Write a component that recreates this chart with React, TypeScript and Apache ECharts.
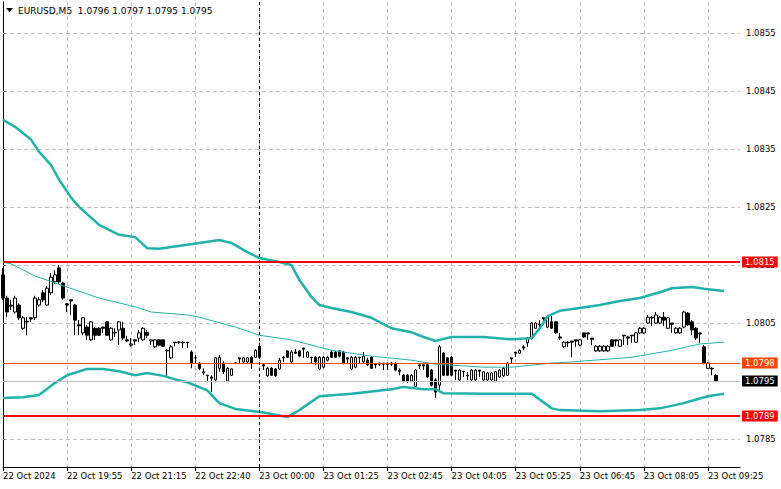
import React, { useEffect, useRef } from "react";
import * as echarts from "echarts";

const titleText = "EURUSD,M5  1.0796 1.0797 1.0795 1.0795";
const timeTicks = [
  "22 Oct 2024", "22 Oct 19:55", "22 Oct 21:15", "22 Oct 22:40", "23 Oct 00:00", "23 Oct 01:25",
  "23 Oct 02:45", "23 Oct 04:05", "23 Oct 05:25", "23 Oct 06:45", "23 Oct 08:05", "23 Oct 09:25",
];
const priceTicks = [1.0785, 1.0795, 1.0805, 1.0815, 1.0825, 1.0835, 1.0845, 1.0855];
const levelValues = [1.08155, 1.07981, 1.0795, 1.0789];
const levelLabels = ["1.0815", "1.0798", "1.0795", "1.0789"];
const sessionMarkerIndex = 64;
const slotCount = 185;

// [open, close, low, high]
const candles = [
  [1.08133, 1.08093, 1.0809, 1.08145], [1.08093, 1.08069, 1.0806, 1.08097], [1.08081, 1.08079, 1.08072, 1.0809],
  [1.08069, 1.08093, 1.08066, 1.08097], [1.08081, 1.08059, 1.08055, 1.08084], [1.08041, 1.08059, 1.08038, 1.08062],
  [1.08053, 1.08052, 1.08029, 1.0806], [1.08059, 1.08057, 1.08052, 1.0806], [1.08059, 1.08093, 1.08055, 1.08097],
  [1.08081, 1.0809, 1.08078, 1.08095], [1.08102, 1.0809, 1.08086, 1.08107], [1.08081, 1.0811, 1.08079, 1.08114],
  [1.08102, 1.08129, 1.08098, 1.08136], [1.08121, 1.08133, 1.08117, 1.08141], [1.08145, 1.08121, 1.08117, 1.0815],
  [1.08119, 1.08093, 1.0809, 1.08121], [1.08083, 1.08081, 1.08069, 1.08084], [1.0809, 1.08088, 1.08064, 1.0809],
  [1.08081, 1.08055, 1.08029, 1.08083], [1.08047, 1.08045, 1.08029, 1.08055], [1.08033, 1.08059, 1.08029, 1.0806],
  [1.08043, 1.08029, 1.08021, 1.08047], [1.08021, 1.08052, 1.08019, 1.08053], [1.08041, 1.08029, 1.08021, 1.08043],
  [1.08041, 1.08029, 1.08028, 1.08043], [1.08043, 1.08041, 1.08033, 1.08043], [1.08052, 1.08029, 1.08028, 1.08053],
  [1.08021, 1.08041, 1.08019, 1.08043], [1.08034, 1.08033, 1.08026, 1.08041], [1.08038, 1.08052, 1.08012, 1.08053],
  [1.08041, 1.08024, 1.08021, 1.08052], [1.08021, 1.08019, 1.08017, 1.08028], [1.08012, 1.08014, 1.08009, 1.08024],
  [1.08021, 1.08019, 1.08012, 1.08021], [1.08024, 1.08033, 1.08017, 1.08038], [1.08021, 1.08041, 1.08019, 1.08043],
  [1.08034, 1.08029, 1.08024, 1.08038], [1.08019, 1.08021, 1.08012, 1.08021], [1.08009, 1.08021, 1.08007, 1.08022],
  [1.08021, 1.08012, 1.0801, 1.08022], [1.08021, 1.0801, 1.08009, 1.08022], [1.08002, 1.08003, 1.07959, 1.08005],
  [1.0799, 1.08009, 1.07988, 1.08012], [1.08017, 1.08016, 1.0801, 1.08017], [1.08017, 1.08017, 1.08014, 1.08019],
  [1.08017, 1.08016, 1.08007, 1.08019], [1.08017, 1.08016, 1.08007, 1.08017], [1.08, 1.07981, 1.07972, 1.08003],
  [1.0799, 1.0799, 1.07981, 1.07995], [1.07981, 1.07972, 1.07969, 1.07983], [1.07964, 1.07966, 1.0796, 1.07972],
  [1.0796, 1.07959, 1.07948, 1.0796], [1.07957, 1.07955, 1.07931, 1.0796], [1.07952, 1.0799, 1.07948, 1.07991],
  [1.07972, 1.07991, 1.07966, 1.07995], [1.07981, 1.07966, 1.07962, 1.07984], [1.0795, 1.07972, 1.07948, 1.07974],
  [1.0796, 1.07971, 1.07959, 1.07972], [1.07981, 1.07981, 1.07979, 1.07983], [1.0799, 1.07988, 1.07981, 1.0799],
  [1.07983, 1.0799, 1.07981, 1.07991], [1.07983, 1.0799, 1.07981, 1.07991], [1.07991, 1.07981, 1.07971, 1.07993],
  [1.07991, 1.08003, 1.0799, 1.08005], [1.0801, 1.07991, 1.07988, 1.08016], [1.07978, 1.07976, 1.07969, 1.07979],
  [1.07959, 1.07972, 1.07957, 1.07974], [1.07972, 1.0796, 1.07959, 1.07974], [1.07971, 1.07959, 1.07957, 1.07972],
  [1.07971, 1.07986, 1.07969, 1.0799], [1.07991, 1.0799, 1.07983, 1.07993], [1.08002, 1.07991, 1.0799, 1.08003],
  [1.07983, 1.08, 1.07981, 1.08003], [1.08, 1.07998, 1.07997, 1.08005], [1.08002, 1.07993, 1.07991, 1.08003],
  [1.08007, 1.08005, 1.0799, 1.08007], [1.07991, 1.08, 1.0799, 1.08002], [1.07991, 1.0799, 1.07981, 1.07991],
  [1.07991, 1.07983, 1.07978, 1.07993], [1.07971, 1.07991, 1.07969, 1.07993], [1.07974, 1.07991, 1.07972, 1.07993],
  [1.07986, 1.07991, 1.07984, 1.07993], [1.08, 1.07991, 1.0799, 1.08002], [1.08, 1.07991, 1.0799, 1.08002],
  [1.08002, 1.07993, 1.07991, 1.08003], [1.08, 1.07981, 1.07979, 1.08002], [1.0799, 1.07988, 1.07979, 1.0799],
  [1.07971, 1.07991, 1.07969, 1.07993], [1.07974, 1.07991, 1.07972, 1.07993], [1.07991, 1.0799, 1.07981, 1.07991],
  [1.07983, 1.07993, 1.07981, 1.08], [1.07986, 1.07978, 1.07976, 1.0799], [1.07991, 1.07972, 1.07971, 1.07993],
  [1.07979, 1.07978, 1.07972, 1.07981], [1.07981, 1.07979, 1.07976, 1.07981], [1.07981, 1.07979, 1.07969, 1.07981],
  [1.07981, 1.07979, 1.07969, 1.07981], [1.07981, 1.07979, 1.07976, 1.07983], [1.07981, 1.07969, 1.07967, 1.07983],
  [1.07969, 1.07967, 1.0796, 1.07972], [1.0796, 1.0795, 1.07948, 1.07962], [1.0796, 1.0795, 1.07947, 1.07962],
  [1.0795, 1.0796, 1.07948, 1.07962], [1.07941, 1.07969, 1.0794, 1.07971], [1.07978, 1.07976, 1.07971, 1.07978],
  [1.07978, 1.07976, 1.07969, 1.07978], [1.07978, 1.07957, 1.07955, 1.07979], [1.07969, 1.07943, 1.07941, 1.07971],
  [1.07952, 1.07931, 1.07921, 1.07955], [1.07943, 1.08009, 1.07934, 1.08012], [1.07998, 1.0796, 1.07959, 1.08],
  [1.0799, 1.0796, 1.07959, 1.07991], [1.07991, 1.0796, 1.07959, 1.07993], [1.07969, 1.07967, 1.07952, 1.07969],
  [1.07952, 1.07969, 1.0795, 1.07971], [1.07967, 1.07966, 1.07957, 1.07967], [1.0796, 1.07959, 1.07952, 1.07966],
  [1.07952, 1.07969, 1.0795, 1.07971], [1.07952, 1.07969, 1.0795, 1.07971], [1.07969, 1.07967, 1.07957, 1.07969],
  [1.07952, 1.07966, 1.0795, 1.07967], [1.07952, 1.07964, 1.0795, 1.07966], [1.07952, 1.07964, 1.0795, 1.07966],
  [1.0795, 1.07966, 1.07948, 1.07967], [1.07957, 1.07969, 1.07955, 1.07971], [1.07959, 1.07972, 1.07957, 1.07974],
  [1.0796, 1.07981, 1.07959, 1.07983], [1.0799, 1.07988, 1.07981, 1.0799], [1.08, 1.07998, 1.07991, 1.08],
  [1.07998, 1.08003, 1.07997, 1.08005], [1.08009, 1.08007, 1.08003, 1.08012], [1.08016, 1.08024, 1.08009, 1.08026],
  [1.08024, 1.0805, 1.08022, 1.08052], [1.08041, 1.0805, 1.0804, 1.08052], [1.08047, 1.08048, 1.08041, 1.08055],
  [1.08059, 1.08057, 1.08047, 1.0806], [1.08043, 1.0806, 1.08041, 1.08062], [1.08052, 1.08041, 1.0804, 1.08062],
  [1.08052, 1.08033, 1.08031, 1.08053], [1.08026, 1.08024, 1.08021, 1.08033], [1.08009, 1.08017, 1.08007, 1.08019],
  [1.08017, 1.08016, 1.08009, 1.08019], [1.08019, 1.08017, 1.07991, 1.08019], [1.08021, 1.08019, 1.08009, 1.08021],
  [1.08012, 1.08021, 1.0801, 1.08022], [1.08033, 1.08026, 1.08024, 1.08034], [1.08033, 1.08031, 1.08021, 1.08033],
  [1.08024, 1.08022, 1.08012, 1.08024], [1.08002, 1.0801, 1.08, 1.08012], [1.08002, 1.0801, 1.08, 1.08012],
  [1.08002, 1.0801, 1.08, 1.08012], [1.08002, 1.0801, 1.08, 1.08012], [1.08021, 1.0801, 1.08009, 1.08022],
  [1.08021, 1.08019, 1.0801, 1.08021], [1.0801, 1.08021, 1.08009, 1.08022], [1.08029, 1.08028, 1.08012, 1.08029],
  [1.08026, 1.08024, 1.08012, 1.08028], [1.08029, 1.08028, 1.08016, 1.08029], [1.08017, 1.08033, 1.08016, 1.08034],
  [1.08033, 1.08041, 1.08031, 1.08043], [1.08033, 1.08041, 1.08031, 1.08043], [1.0805, 1.0806, 1.08048, 1.08064],
  [1.0806, 1.08059, 1.08045, 1.08062], [1.0805, 1.08064, 1.08048, 1.08069], [1.0805, 1.0806, 1.08048, 1.08062],
  [1.0806, 1.08055, 1.08045, 1.08069], [1.08041, 1.08059, 1.0804, 1.0806], [1.0805, 1.08048, 1.08033, 1.0805],
  [1.08033, 1.08041, 1.08031, 1.08043], [1.08033, 1.08041, 1.08031, 1.08043], [1.08043, 1.08069, 1.08041, 1.08071],
  [1.08067, 1.08047, 1.08045, 1.08069], [1.08052, 1.08038, 1.08029, 1.08055], [1.08041, 1.08024, 1.08021, 1.08043],
  [1.08033, 1.08031, 1.08016, 1.08033], [1.08009, 1.07981, 1.07979, 1.08012], [1.07972, 1.07981, 1.07971, 1.07983],
  [1.07972, 1.07971, 1.0796, 1.07974], [1.0796, 1.0795, 1.07948, 1.07962],
];

// Bollinger bands: [bar index, price]
const upperBand = [
  [0, 1.084], [3, 1.08388], [7, 1.08366], [9, 1.08345], [12, 1.08322], [14, 1.08297], [17, 1.08266],
  [19, 1.0825], [24, 1.08219], [29, 1.08202], [33, 1.08198], [36, 1.08179], [39, 1.08178], [49, 1.08188],
  [54, 1.08193], [57, 1.08188], [61, 1.08172], [64, 1.08162], [69, 1.08155], [72, 1.0815], [74, 1.08124],
  [77, 1.08095], [79, 1.08081], [82, 1.08076], [87, 1.08069], [92, 1.08059], [97, 1.08041], [102, 1.08034],
  [105, 1.08026], [108, 1.08019], [109, 1.08021], [112, 1.08026], [120, 1.08026], [127, 1.08022],
  [132, 1.08024], [134, 1.08041], [136, 1.08062], [139, 1.08071], [144, 1.08076], [149, 1.08081],
  [154, 1.08088], [159, 1.08093], [164, 1.08103], [167, 1.0811], [172, 1.08112], [175, 1.08109], [180, 1.08105],
];
const middleBand = [
  [0, 1.08155], [2, 1.08152], [8, 1.08131], [16, 1.08112], [24, 1.08093], [33, 1.08078], [37, 1.08069],
  [46, 1.08064], [49, 1.0806], [58, 1.08043], [64, 1.08029], [72, 1.08021], [82, 1.08003], [92, 1.07993],
  [102, 1.07986], [108, 1.07979], [120, 1.07974], [127, 1.07974], [137, 1.07981], [142, 1.07983],
  [157, 1.07991], [167, 1.08003], [174, 1.08014], [180, 1.08017],
];
const lowerBand = [
  [0, 1.07921], [5, 1.07922], [9, 1.07926], [13, 1.07947], [16, 1.0796], [21, 1.07971], [25, 1.07971],
  [29, 1.07967], [33, 1.0796], [36, 1.07964], [40, 1.07959], [43, 1.07953], [46, 1.07948], [51, 1.07934],
  [54, 1.07912], [58, 1.07902], [64, 1.07897], [71, 1.07888], [74, 1.079], [79, 1.07924], [87, 1.07928],
  [97, 1.07936], [100, 1.0794], [105, 1.07936], [108, 1.07936], [110, 1.07929], [120, 1.07928],
  [132, 1.07928], [137, 1.07903], [139, 1.079], [149, 1.07898], [159, 1.079], [164, 1.07903],
  [170, 1.07912], [172, 1.07916], [176, 1.07924], [180, 1.07928],
];

const FONT = "DejaVu Sans";
const FS = 8.5;
const BAND = "#20b2aa";
const GRID = "#c0c0c0";
const levelColors = ["#ff0000", "#ff4500", "#c0c0c0", "#ff0000"];
const levelBoxColors = ["#ff0000", "#ff4500", "#000000", "#ff0000"];
const levelWidths = [2, 1, 1, 2];

export default function App() {
  const ref = useRef<HTMLDivElement>(null);

  useEffect(() => {
    if (!ref.current) return;
    const chart = echarts.init(ref.current, null, { renderer: "svg" });
    const categories = Array.from({ length: slotCount }, (_, i) => String(i));

    const levelLines = levelValues.map((v, k) => ({
      yAxis: v,
      lineStyle: { color: levelColors[k], width: levelWidths[k], type: "solid" },
      label: {
        show: true,
        position: "end",
        distance: 2,
        formatter: levelLabels[k],
        color: "#fff",
        backgroundColor: levelBoxColors[k],
        padding: [1, 3, 0, 3],
        lineHeight: 10,
        fontFamily: FONT,
        fontSize: FS,
      },
    }));

    chart.setOption({
      animation: false,
      backgroundColor: "#fff",
      grid: { left: 2, right: 41, top: 2, bottom: 22, containLabel: false },
      xAxis: [
        {
          type: "category",
          data: categories,
          boundaryGap: false,
          axisLine: { show: true, lineStyle: { color: "#000", width: 1 } },
          axisTick: { show: true, interval: 15, length: 4, lineStyle: { color: "#000" } },
          axisLabel: {
            interval: 15,
            align: "left",
            margin: 4,
            color: "#000",
            fontFamily: FONT,
            fontSize: FS,
            formatter: (_v: string, i: number) => timeTicks[i / 16] ?? "",
          },
          splitLine: { show: true, interval: 15, lineStyle: { color: GRID, type: [4, 3], width: 1 } },
        },
        { type: "value", min: 0, max: slotCount - 1, show: false },
      ],
      yAxis: [
        {
          type: "value",
          position: "right",
          min: 1.07802,
          max: 1.08603,
          axisLine: { show: true, lineStyle: { color: "#000", width: 1 } },
          axisTick: { show: true, customValues: priceTicks, length: 3, lineStyle: { color: "#808080" } },
          axisLabel: {
            customValues: priceTicks,
            formatter: (v: number) => v.toFixed(4),
            color: "#000",
            fontFamily: FONT,
            fontSize: FS,
            margin: 6,
          },
          splitLine: { show: true, lineStyle: { color: GRID, type: [4, 3], width: 1 } },
        },
        {
          type: "value",
          position: "left",
          min: 1.07802,
          max: 1.08603,
          axisLine: { show: true, onZero: false, lineStyle: { color: "#000", width: 1 } },
          axisTick: { show: false },
          axisLabel: { show: false },
          splitLine: { show: false },
        },
      ],
      series: [
        {
          type: "candlestick",
          xAxisIndex: 0,
          yAxisIndex: 0,
          data: candles,
          barWidth: 3,
          z: 2,
          itemStyle: {
            color: "#ffffff",
            color0: "#000000",
            borderColor: "#000000",
            borderColor0: "#000000",
            borderWidth: 1,
          },
        },
        {
          type: "line",
          xAxisIndex: 1,
          yAxisIndex: 0,
          data: upperBand,
          showSymbol: false,
          z: 3,
          lineStyle: { color: BAND, width: 2.5 },
        },
        {
          type: "line",
          xAxisIndex: 1,
          yAxisIndex: 0,
          data: middleBand,
          showSymbol: false,
          z: 3,
          lineStyle: { color: BAND, width: 1 },
          markLine: {
            symbol: ["none", "none"],
            silent: true,
            animation: false,
            precision: 5,
            data: [
              ...levelLines,
              {
                xAxis: sessionMarkerIndex,
                lineStyle: { color: "#000", width: 1, type: [3, 3] },
                label: { show: false },
              },
            ],
          },
        },
        {
          type: "line",
          xAxisIndex: 1,
          yAxisIndex: 0,
          data: lowerBand,
          showSymbol: false,
          z: 3,
          lineStyle: { color: BAND, width: 2.5 },
        },
      ],
      graphic: [
        {
          type: "polygon",
          shape: { points: [[6, 8], [13, 8], [9.5, 12]] },
          style: { fill: "#000" },
        },
        {
          type: "text",
          left: 18,
          top: 6,
          style: { text: titleText, fill: "#000", font: `9px "${FONT}"` },
        },
      ],
    });

    return () => chart.dispose();
  }, []);

  return (
    <div
      ref={ref}
      style={{ position: "fixed", left: 0, top: 0, width: 781, height: 489, background: "#fff" }}
    />
  );
}
